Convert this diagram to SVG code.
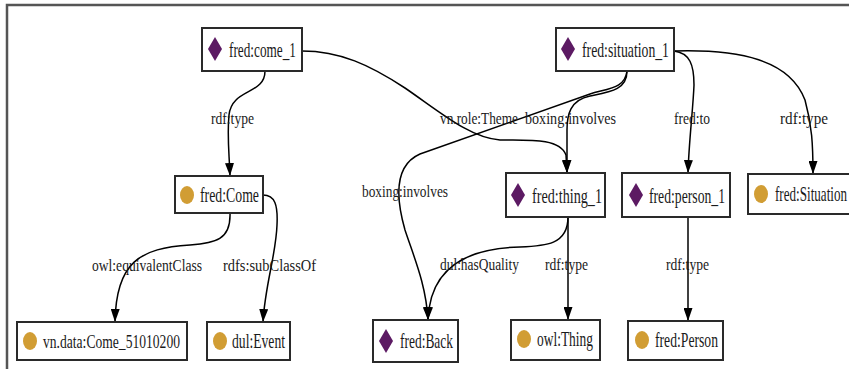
<svg xmlns="http://www.w3.org/2000/svg" width="849" height="369" viewBox="0 0 849 369">
<defs>
<marker id="arr" viewBox="0 0 13 9" refX="13" refY="4.5" markerWidth="13" markerHeight="9" markerUnits="userSpaceOnUse" orient="auto">
<path d="M0,0 L13,4.5 L0,9 z" fill="#000"/>
</marker>
<style>
.box{fill:#fff;stroke:#2a2a2a;stroke-width:2}
.dia{fill:#5c1a63}
.cir{fill:#d19d34}
.nt{font-family:"Liberation Serif",serif;font-size:21px;fill:#1a1a1a}
.el{font-family:"Liberation Serif",serif;font-size:16px;fill:#1a1a1a}
.edge{fill:none;stroke:#000;stroke-width:1.5;marker-end:url(#arr)}
</style>
</defs>
<rect width="849" height="369" fill="#fff"/>
<path d="M7,369 V5 H849" fill="none" stroke="#555" stroke-width="2.5"/>

<g id="connectors">
<path class="edge" d="M265,71 C265,95 232,88 229,115 C227,135 229,150 230,176"/>
<path class="edge" d="M302,51 C340,51 370,65 405,88 C440,112 470,138 500,140 C530,140 560,138 566,155 L567,173"/>
<path class="edge" d="M627,71 C627,90 610,92 590,96 C570,100 567,115 567,130 L567,173"/>
<path class="edge" d="M627,71 C625,88 610,88 590,94 L420,154 C395,165 395,195 405,230 C415,260 426,285 428,320"/>
<path class="edge" d="M674,51 C690,53 694,65 694,85 C693,110 689,140 688,173"/>
<path class="edge" d="M674,51 C740,49 790,60 805,100 C812,125 813,145 813,174"/>
<path class="edge" d="M568,217 C568,245 545,246 520,247 C470,248 430,265 428,320"/>
<path class="edge" d="M568,217 L568,320"/>
<path class="edge" d="M688,217 L688,321"/>
<path class="edge" d="M230,213 C231,240 215,243 190,245 C140,248 116,262 115,322"/>
<path class="edge" d="M263,195 C275,195 278,205 277,225 C276,255 265,285 263,322"/>
</g>

<g id="edge-labels">
<text class="el" x="211" y="124" textLength="43" lengthAdjust="spacingAndGlyphs">rdf:type</text>
<text class="el" x="440" y="124" textLength="78" lengthAdjust="spacingAndGlyphs">vn.role:Theme</text>
<text class="el" x="525" y="124" textLength="91" lengthAdjust="spacingAndGlyphs">boxing:involves</text>
<text class="el" x="674" y="124" textLength="36" lengthAdjust="spacingAndGlyphs">fred:to</text>
<text class="el" x="780" y="124" textLength="48" lengthAdjust="spacingAndGlyphs">rdf:type</text>
<text class="el" x="362" y="197" textLength="86" lengthAdjust="spacingAndGlyphs">boxing:involves</text>
<text class="el" x="92" y="271" textLength="110" lengthAdjust="spacingAndGlyphs">owl:equivalentClass</text>
<text class="el" x="223" y="271" textLength="93" lengthAdjust="spacingAndGlyphs">rdfs:subClassOf</text>
<text class="el" x="440" y="270" textLength="79" lengthAdjust="spacingAndGlyphs">dul:hasQuality</text>
<text class="el" x="545" y="270" textLength="43" lengthAdjust="spacingAndGlyphs">rdf:type</text>
<text class="el" x="666" y="270" textLength="43" lengthAdjust="spacingAndGlyphs">rdf:type</text>
</g>

<g id="node-come_1">
<rect class="box" x="202" y="28" width="100" height="43"/>
<path class="dia" d="M215,37 L222,49 L215,61 L208,49 z"/>
<text class="nt" x="229" y="57" textLength="67" lengthAdjust="spacingAndGlyphs">fred:come_1</text>
</g>
<g id="node-situation_1">
<rect class="box" x="556" y="28" width="118" height="43"/>
<path class="dia" d="M568,37 L575,49 L568,61 L561,49 z"/>
<text class="nt" x="582" y="57" textLength="87" lengthAdjust="spacingAndGlyphs">fred:situation_1</text>
</g>
<g id="node-Come">
<rect class="box" x="175" y="176" width="88" height="37"/>
<ellipse class="cir" cx="187" cy="195" rx="7" ry="9"/>
<text class="nt" x="200" y="202" textLength="59" lengthAdjust="spacingAndGlyphs">fred:Come</text>
</g>
<g id="node-thing_1">
<rect class="box" x="506" y="173" width="99" height="44"/>
<path class="dia" d="M518,183 L525,195 L518,207 L511,195 z"/>
<text class="nt" x="532" y="203" textLength="70" lengthAdjust="spacingAndGlyphs">fred:thing_1</text>
</g>
<g id="node-person_1">
<rect class="box" x="622" y="173" width="108" height="44"/>
<path class="dia" d="M636,183 L643,195 L636,207 L629,195 z"/>
<text class="nt" x="649" y="203" textLength="76" lengthAdjust="spacingAndGlyphs">fred:person_1</text>
</g>
<g id="node-Situation">
<rect class="box" x="748" y="174" width="112" height="40"/>
<ellipse class="cir" cx="761" cy="194" rx="7" ry="9"/>
<text class="nt" x="775" y="201" textLength="72" lengthAdjust="spacingAndGlyphs">fred:Situation</text>
</g>
<g id="node-vn_data_Come">
<rect class="box" x="17" y="322" width="170" height="38"/>
<ellipse class="cir" cx="30" cy="341" rx="7" ry="9"/>
<text class="nt" x="43" y="348" textLength="137" lengthAdjust="spacingAndGlyphs" style="font-size:18.5px">vn.data:Come_51010200</text>
</g>
<g id="node-Event">
<rect class="box" x="207" y="322" width="83" height="38"/>
<ellipse class="cir" cx="220" cy="341" rx="7" ry="9"/>
<text class="nt" x="232" y="348" textLength="53" lengthAdjust="spacingAndGlyphs">dul:Event</text>
</g>
<g id="node-Back">
<rect class="box" x="373" y="320" width="85" height="42"/>
<path class="dia" d="M386,329 L393,341 L386,353 L379,341 z"/>
<text class="nt" x="400" y="348" textLength="53" lengthAdjust="spacingAndGlyphs">fred:Back</text>
</g>
<g id="node-Thing">
<rect class="box" x="511" y="320" width="89" height="40"/>
<ellipse class="cir" cx="524" cy="339" rx="7" ry="9"/>
<text class="nt" x="537" y="346" textLength="56" lengthAdjust="spacingAndGlyphs">owl:Thing</text>
</g>
<g id="node-Person">
<rect class="box" x="628" y="321" width="95" height="39"/>
<ellipse class="cir" cx="642" cy="340" rx="7" ry="9"/>
<text class="nt" x="655" y="347" textLength="63" lengthAdjust="spacingAndGlyphs">fred:Person</text>
</g>
</svg>
